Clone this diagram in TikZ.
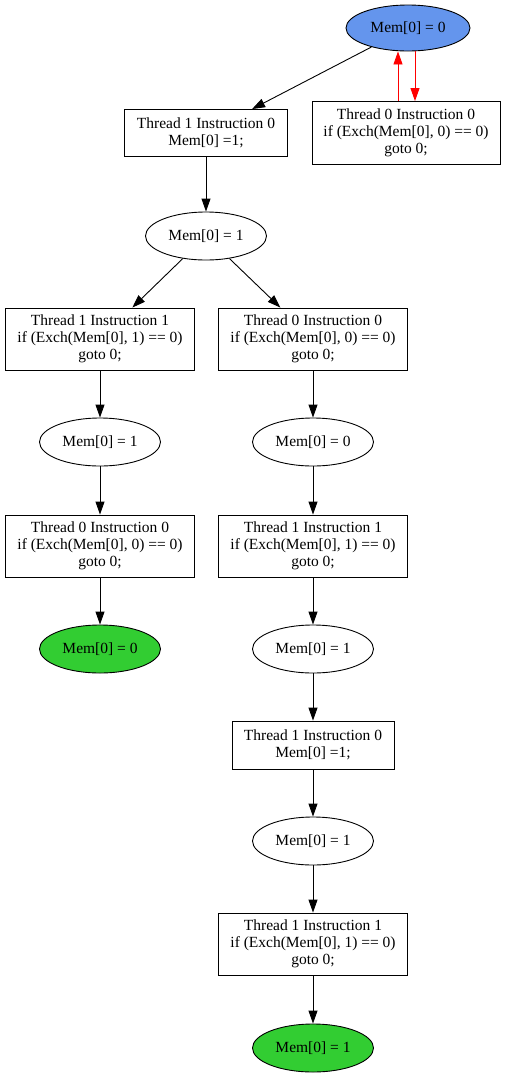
\documentclass[tikz,border=0pt]{standalone}
\usepackage{fontspec}
\setmainfont{Liberation Serif}
\usetikzlibrary{shapes.geometric,arrows.meta}
\definecolor{topblue}{HTML}{6495ED}
\definecolor{endgreen}{HTML}{32CD32}
\begin{document}
\begin{tikzpicture}[x=1pt,y=-1pt,
  every node/.style={font=\fontsize{15.5}{17}\selectfont, align=center},
  state/.style={ellipse, draw, line width=0.9pt, minimum width=121pt, minimum height=48pt, inner sep=0pt},
  instr/.style={rectangle, draw, line width=0.9pt, inner sep=0pt},
  tip/.style={-{Triangle[length=13pt,width=9pt]}, line width=0.9pt},
]
\useasboundingbox (0,0) rectangle (507,1077);
\node[state, fill=topblue, minimum width=124pt, minimum height=46pt] (s0) at (408,28) {Mem[0] = 0};
\node[instr, minimum width=163pt, minimum height=47pt] (a) at (206,133) {Thread 1 Instruction 0\\Mem[0] =1;};
\node[instr, minimum width=188pt, minimum height=63pt] (r0) at (406,133) {Thread 0 Instruction 0\\if (Exch(Mem[0], 0) == 0)\\goto 0;};
\node[state] (s1) at (206,236) {Mem[0] = 1};
\node[instr, minimum width=189pt, minimum height=62pt] (bl) at (100,339) {Thread 1 Instruction 1\\if (Exch(Mem[0], 1) == 0)\\goto 0;};
\node[instr, minimum width=189pt, minimum height=62pt] (br) at (313,339) {Thread 0 Instruction 0\\if (Exch(Mem[0], 0) == 0)\\goto 0;};
\node[state] (sl2) at (100,442) {Mem[0] = 1};
\node[state] (sr2) at (313,442) {Mem[0] = 0};
\node[instr, minimum width=189pt, minimum height=62pt] (cl) at (100,546) {Thread 0 Instruction 0\\if (Exch(Mem[0], 0) == 0)\\goto 0;};
\node[instr, minimum width=189pt, minimum height=62pt] (cr) at (313,546) {Thread 1 Instruction 1\\if (Exch(Mem[0], 1) == 0)\\goto 0;};
\node[state, fill=endgreen] (el) at (100,649) {Mem[0] = 0};
\node[state] (sr3) at (313,649) {Mem[0] = 1};
\node[instr, minimum width=162pt, minimum height=48pt] (dr) at (313,745) {Thread 1 Instruction 0\\Mem[0] =1;};
\node[state] (sr4) at (313,841) {Mem[0] = 1};
\node[instr, minimum width=189pt, minimum height=62pt] (er) at (313,944) {Thread 1 Instruction 1\\if (Exch(Mem[0], 1) == 0)\\goto 0;};
\node[state, fill=endgreen] (fr) at (313,1048) {Mem[0] = 1};

\draw[tip] (s0) -- (a);
\draw[tip, red] ([xshift=7pt]s0.south) -- ([xshift=9pt]r0.north);
\draw[tip, red] ([xshift=-8pt]r0.north) -- ([xshift=-10pt]s0.south);
\draw[tip] (a) -- (s1);
\draw[tip] (s1) -- (bl);
\draw[tip] (s1) -- (br);
\draw[tip] (bl) -- (sl2);
\draw[tip] (br) -- (sr2);
\draw[tip] (sl2) -- (cl);
\draw[tip] (sr2) -- (cr);
\draw[tip] (cl) -- (el);
\draw[tip] (cr) -- (sr3);
\draw[tip] (sr3) -- (dr);
\draw[tip] (dr) -- (sr4);
\draw[tip] (sr4) -- (er);
\draw[tip] (er) -- (fr);
\end{tikzpicture}
\end{document}
